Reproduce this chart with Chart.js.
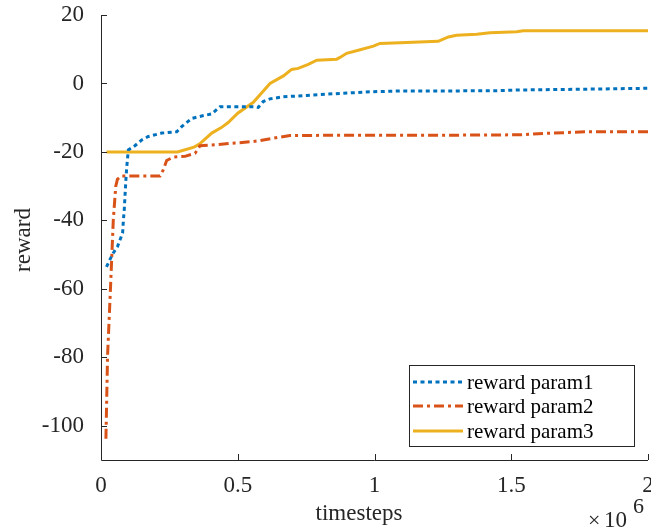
<!DOCTYPE html>
<html>
<head>
<meta charset="utf-8">
<script src="https://cdn.jsdelivr.net/npm/chart.js@4.4.1/dist/chart.umd.min.js"></script>
<style>
  html, body { margin: 0; padding: 0; background: #fff; }
  #wrap { width: 651px; height: 531px; }
</style>
</head>
<body>
<div id="wrap"><canvas id="rewardChart" width="651" height="531"></canvas></div>
<script>
// timesteps are in millions (axis shows x10^6)
const seriesNames = ['reward param1', 'reward param2', 'reward param3'];

const steps1 = [0.02, 0.033, 0.045, 0.06, 0.07, 0.079, 0.082, 0.085, 0.088, 0.091, 0.094, 0.10, 0.124, 0.149, 0.173, 0.222, 0.277, 0.295, 0.332, 0.368, 0.405, 0.435, 0.50, 0.557, 0.575, 0.593, 0.618, 0.667, 0.752, 0.874, 0.996, 1.093, 1.25, 1.45, 1.53, 1.75, 2.0];
const reward1 = [-53.6, -51.4, -49.5, -47.7, -45.6, -43.7, -39.8, -36.9, -32.5, -28.1, -24.5, -19.4, -18.2, -16.5, -15.5, -14.5, -14.1, -12.6, -10.2, -9.5, -8.9, -6.8, -6.8, -6.8, -7.0, -5.3, -4.5, -3.9, -3.5, -2.9, -2.4, -2.2, -2.2, -2.1, -1.9, -1.7, -1.4];

const steps2 = [0.018, 0.024, 0.035, 0.045, 0.054, 0.06, 0.07, 0.076, 0.216, 0.228, 0.24, 0.265, 0.307, 0.344, 0.362, 0.405, 0.49, 0.551, 0.581, 0.63, 0.691, 1.0, 1.3, 1.53, 1.65, 1.776, 2.0];
const reward2 = [-103.8, -79.6, -59.2, -39.8, -30.0, -28.0, -27.3, -27.0, -27.0, -25.2, -22.5, -21.5, -21.3, -20.4, -18.2, -18.0, -17.4, -17.0, -16.7, -16.0, -15.2, -15.1, -15.1, -15.0, -14.5, -14.1, -14.1];

const steps3 = [0.02, 0.28, 0.34, 0.36, 0.405, 0.44, 0.465, 0.50, 0.557, 0.618, 0.667, 0.697, 0.721, 0.758, 0.789, 0.862, 0.874, 0.898, 0.941, 0.996, 1.02, 1.093, 1.233, 1.27, 1.30, 1.374, 1.422, 1.52, 1.544, 2.0];
const reward3 = [-20, -20, -18.6, -17.7, -14.5, -12.9, -11.4, -8.7, -5.5, 0, 2.2, 4.1, 4.4, 5.6, 6.8, 7.1, 7.6, 8.8, 9.7, 10.9, 11.7, 11.9, 12.3, 13.6, 14.1, 14.4, 14.8, 15.1, 15.4, 15.4];

const xTicks = [0, 0.5, 1, 1.5, 2];
const yTicks = [-100, -80, -60, -40, -20, 0, 20];

const colors = ['#0072BD', '#D95319', '#EDB120'];
const dashes = [[4, 3.5], [10, 4, 3, 4], []];
const axisColor = '#262626';
const serif = '"Liberation Serif", "Times New Roman", serif';

function toPoints(xs, ys) {
    return xs.map((x, i) => ({ x: x, y: ys[i] }));
}

// MATLAB-like axes: left + bottom lines with inward ticks, axis labels, legend
const matlabAxes = {
    id: 'matlabAxes',
    afterDraw(chart) {
        const ctx = chart.ctx;
        const a = chart.chartArea;
        const x = chart.scales.x, y = chart.scales.y;
        ctx.save();
        ctx.strokeStyle = axisColor;
        ctx.lineWidth = 1;
        ctx.beginPath();
        ctx.moveTo(a.left + 0.5, a.top);
        ctx.lineTo(a.left + 0.5, a.bottom + 0.5);
        ctx.lineTo(a.right, a.bottom + 0.5);
        xTicks.forEach(v => {
            const px = Math.round(x.getPixelForValue(v)) + 0.5;
            ctx.moveTo(px, a.bottom);
            ctx.lineTo(px, a.bottom - 6);
        });
        yTicks.forEach(v => {
            const py = Math.round(y.getPixelForValue(v)) + 0.5;
            ctx.moveTo(a.left, py);
            ctx.lineTo(a.left + 6, py);
        });
        ctx.stroke();

        // axis titles
        ctx.fillStyle = axisColor;
        ctx.font = '23px ' + serif;
        ctx.textAlign = 'center';
        ctx.textBaseline = 'alphabetic';
        ctx.fillText('timesteps', 359, 520);
        ctx.save();
        ctx.translate(30, 240);
        ctx.rotate(-Math.PI / 2);
        ctx.fillText('reward', 0, 0);
        ctx.restore();

        // exponent label
        ctx.font = '22px ' + serif;
        ctx.textAlign = 'left';
        ctx.fillText('\u00d7', 588, 527);
        ctx.font = '23px ' + serif;
        ctx.fillText('10', 604, 527);
        ctx.font = '22px ' + serif;
        ctx.fillText('6', 633, 513);

        // legend
        const lx = 409, ly = 365, lw = 225, lh = 81;
        ctx.fillStyle = '#fff';
        ctx.fillRect(lx, ly, lw, lh);
        ctx.strokeStyle = axisColor;
        ctx.strokeRect(lx + 0.5, ly + 0.5, lw, lh);
        const rows = [382, 406, 431];
        ctx.font = '21px ' + serif;
        ctx.textBaseline = 'middle';
        seriesNames.forEach((name, i) => {
            ctx.save();
            ctx.strokeStyle = colors[i];
            ctx.lineWidth = 3;
            ctx.setLineDash(dashes[i]);
            ctx.beginPath();
            ctx.moveTo(413, rows[i]);
            ctx.lineTo(463, rows[i]);
            ctx.stroke();
            ctx.restore();
            ctx.fillStyle = '#000';
            ctx.fillText(name, 467, rows[i] + 1);
        });
        ctx.restore();
    }
};

const ctx = document.getElementById('rewardChart').getContext('2d');

new Chart(ctx, {
    type: 'line',
    data: {
        datasets: [
            { label: seriesNames[0], data: toPoints(steps1, reward1), borderColor: colors[0], borderDash: dashes[0] },
            { label: seriesNames[1], data: toPoints(steps2, reward2), borderColor: colors[1], borderDash: dashes[1] },
            { label: seriesNames[2], data: toPoints(steps3, reward3), borderColor: colors[2], borderDash: dashes[2] }
        ]
    },
    options: {
        responsive: false,
        animation: false,
        devicePixelRatio: 1,
        layout: { padding: { top: 15, right: 3, left: 0, bottom: 0 } },
        elements: {
            line: { borderWidth: 3, tension: 0, fill: false, borderCapStyle: 'butt' },
            point: { radius: 0 }
        },
        plugins: {
            legend: { display: false },
            tooltip: { enabled: false }
        },
        scales: {
            x: {
                type: 'linear',
                min: 0,
                max: 2,
                grid: { display: false },
                border: { display: false },
                afterBuildTicks: s => { s.ticks = xTicks.map(v => ({ value: v })); },
                afterFit: s => { s.height = 71; s.paddingLeft = 0; s.paddingRight = 0; },
                ticks: {
                    color: axisColor,
                    padding: 4,
                    maxRotation: 0,
                    font: { family: serif, size: 23 },
                    callback: v => String(v)
                }
            },
            y: {
                min: -110,
                max: 20,
                grid: { display: false },
                border: { display: false },
                afterBuildTicks: s => { s.ticks = yTicks.map(v => ({ value: v })); },
                afterFit: s => { s.width = 101; s.paddingTop = 0; s.paddingBottom = 0; },
                ticks: {
                    color: axisColor,
                    padding: 9,
                    font: { family: serif, size: 23 },
                    callback: v => String(v)
                }
            }
        }
    },
    plugins: [matlabAxes]
});
</script>
</body>
</html>
